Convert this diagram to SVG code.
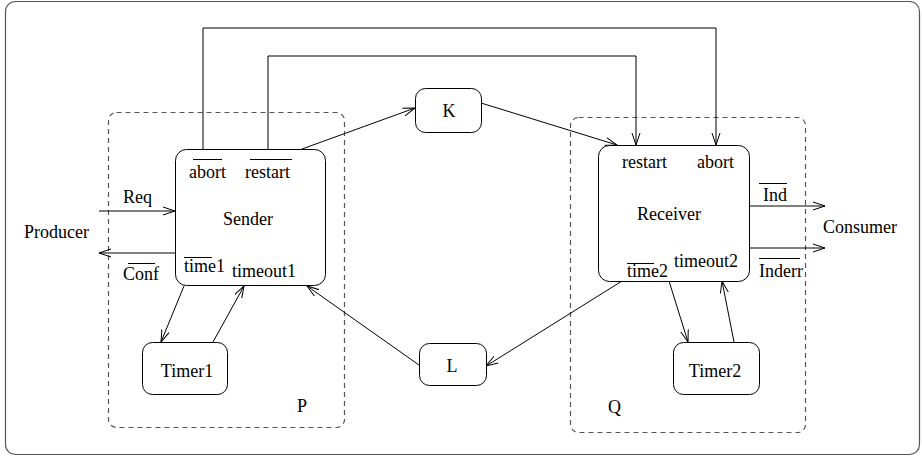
<svg xmlns="http://www.w3.org/2000/svg" width="922" height="457" viewBox="0 0 922 457">
  <style>
    text { font-family: "Liberation Serif", "Times New Roman", serif; font-size: 18px; fill: #000; }
    .mid { text-anchor: middle; }
    .box { fill: #fff; stroke: #000; stroke-width: 1; }
    .frame { fill: none; stroke: #555; stroke-width: 1.2; }
    .proc { fill: none; stroke: #555; stroke-width: 1.2; stroke-dasharray: 5 4; }
    .bar { stroke: #000; stroke-width: 1; }
    .wire { fill: none; stroke: #000; stroke-width: 1; }
    .arr { marker-end: url(#open); }
  </style>
  <defs>
    <marker id="open" markerUnits="userSpaceOnUse" markerWidth="14" markerHeight="10" refX="12" refY="5" orient="auto">
      <path d="M0,1 L12,5 L0,9" fill="none" stroke="#000" stroke-width="1"/>
    </marker>
  </defs>

  <rect class="frame" x="5.5" y="1.5" width="914" height="453" rx="10"/>

  <!-- process boundaries -->
  <g id="process-P">
    <rect class="proc" x="108.5" y="112.5" width="236" height="315" rx="8"/>
    <text x="297" y="412">P</text>
  </g>
  <g id="process-Q">
    <rect class="proc" x="570.5" y="117.5" width="235" height="315" rx="8"/>
    <text x="608" y="413">Q</text>
  </g>

  <!-- connectors -->
  <g id="connectors">
    <polyline class="wire arr" points="203,149 203,28 716,28 716,145"/>
    <polyline class="wire arr" points="268,149 268,56 636,56 636,145"/>
    <line class="wire arr" x1="99" y1="211" x2="175" y2="211"/>
    <line class="wire arr" x1="175" y1="253" x2="99" y2="253"/>
    <line class="wire arr" x1="749" y1="206" x2="825" y2="206"/>
    <line class="wire arr" x1="749" y1="248" x2="825" y2="248"/>
    <line class="wire arr" x1="302" y1="149" x2="415" y2="108"/>
    <line class="wire arr" x1="481" y1="103" x2="617" y2="145"/>
    <line class="wire arr" x1="622" y1="281" x2="486" y2="366"/>
    <line class="wire arr" x1="419" y1="365" x2="307" y2="286"/>
    <line class="wire arr" x1="184" y1="286" x2="161" y2="342"/>
    <line class="wire arr" x1="213" y1="342" x2="244" y2="286"/>
    <line class="wire arr" x1="669" y1="281" x2="688" y2="342"/>
    <line class="wire arr" x1="734" y1="342" x2="722" y2="281"/>
  </g>

  <g id="sender">
    <rect class="box" x="175.5" y="149.5" width="150" height="136" rx="11"/>
    <text x="189" y="178">abort</text>
    <line class="bar" x1="193" y1="159.5" x2="222" y2="159.5"/>
    <text x="245" y="178">restart</text>
    <line class="bar" x1="250" y1="159.5" x2="292" y2="159.5"/>
    <text class="mid" x="248" y="225">Sender</text>
    <text x="184" y="272">time1</text>
    <line class="bar" x1="184" y1="257.5" x2="212" y2="257.5"/>
    <text x="232" y="277">timeout1</text>
  </g>

  <g id="receiver">
    <rect class="box" x="598.5" y="145.5" width="151" height="136" rx="11"/>
    <text x="622" y="168">restart</text>
    <text x="697" y="168">abort</text>
    <text class="mid" x="669" y="220">Receiver</text>
    <text x="627" y="277">time2</text>
    <line class="bar" x1="627" y1="263.5" x2="654" y2="263.5"/>
    <text x="674" y="267">timeout2</text>
  </g>

  <g id="K">
    <rect class="box" x="415.5" y="88.5" width="66" height="44" rx="10"/>
    <text class="mid" x="449" y="117">K</text>
  </g>
  <g id="L">
    <rect class="box" x="419.5" y="343.5" width="67" height="42" rx="10"/>
    <text class="mid" x="452" y="372">L</text>
  </g>
  <g id="timer1">
    <rect class="box" x="142.5" y="342.5" width="85" height="52" rx="10"/>
    <text class="mid" x="187" y="377">Timer1</text>
  </g>
  <g id="timer2">
    <rect class="box" x="673.5" y="342.5" width="86" height="52" rx="10"/>
    <text class="mid" x="715" y="377">Timer2</text>
  </g>

  <g id="producer">
    <text x="24" y="238">Producer</text>
    <text x="123" y="203">Req</text>
    <text x="123" y="280">Conf</text>
    <line class="bar" x1="128" y1="263.5" x2="155" y2="263.5"/>
  </g>
  <g id="consumer">
    <text x="823" y="233">Consumer</text>
    <text x="763" y="201">Ind</text>
    <line class="bar" x1="759" y1="183.5" x2="787" y2="183.5"/>
    <text x="759" y="277">Inderr</text>
    <line class="bar" x1="759" y1="258.5" x2="800" y2="258.5"/>
  </g>
</svg>
